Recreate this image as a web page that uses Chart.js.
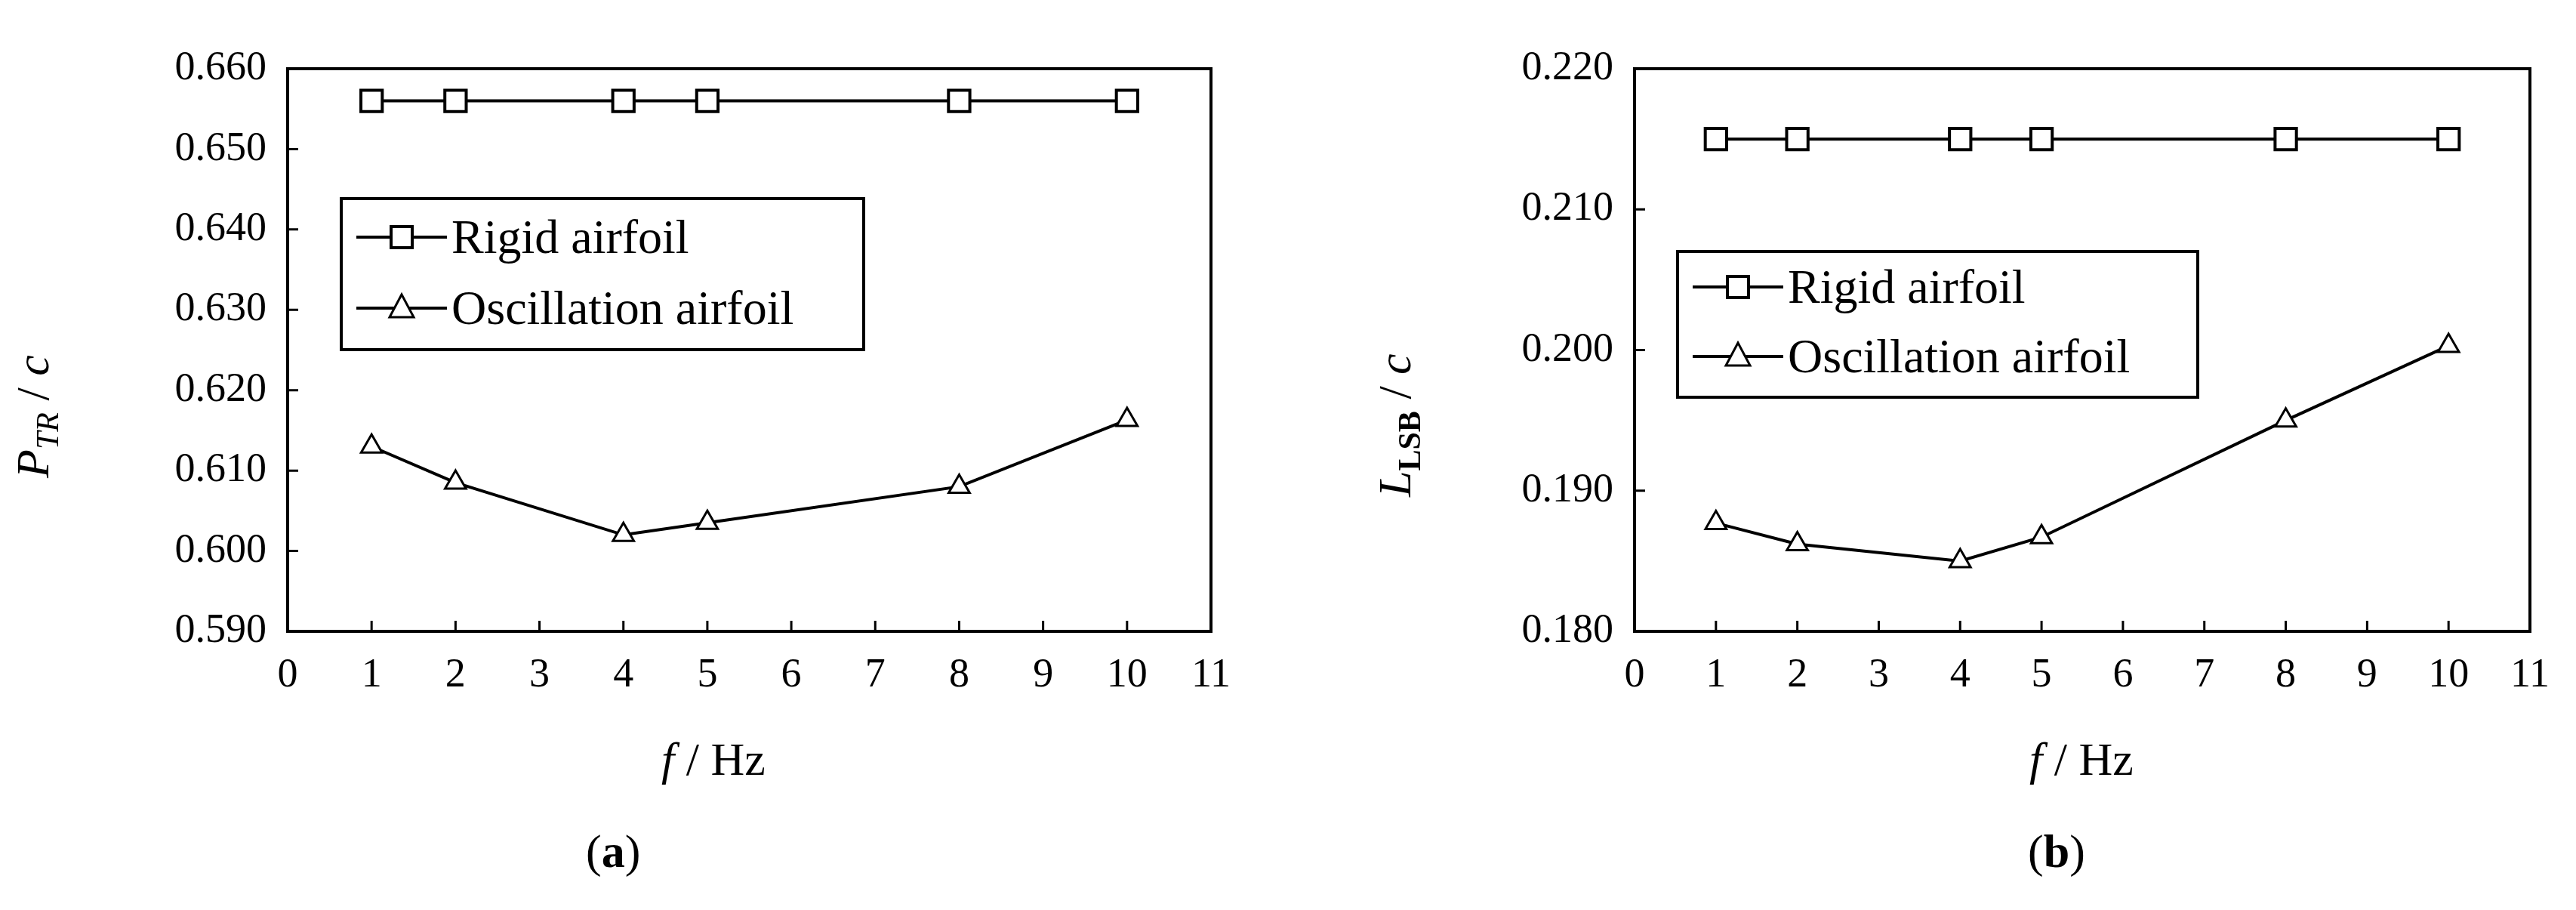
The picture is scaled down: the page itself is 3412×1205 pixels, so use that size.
<!DOCTYPE html>
<html><head><meta charset="utf-8">
<script src="https://cdn.jsdelivr.net/npm/chart.js@4/dist/chart.umd.min.js"></script>
<style>
body{margin:0;width:3412px;height:1205px;background:#fff;position:relative;overflow:hidden;font-family:"Liberation Serif",serif;}
.wrap{position:absolute;top:0;width:1706px;height:1205px;}
.t{position:absolute;font-size:62px;color:#000;white-space:nowrap;}
.leg{position:absolute;border:4px solid #000;background:#fff;font-size:64px;}
.row{position:absolute;left:18px;display:flex;align-items:center;}
.row svg{margin-right:6px;}
</style></head><body>
<div class="wrap" style="left:0"><canvas id="ca"></canvas></div>
<div class="wrap" style="left:1706px"><canvas id="cb"></canvas></div>

<div class="t" style="left:48px;top:528px;width:0;height:0;transform:rotate(-90deg);"><span style="position:absolute;left:-105px;top:-40px;"><i>P</i><sub style="font-size:42px"><i>TR</i></sub> / <i>c</i></span></div>
<div class="t" style="left:876px;top:970px;"><i>f</i> / Hz</div>
<div class="t" style="left:776px;top:1092px;font-size:62px;">(<b>a</b>)</div>

<div class="t" style="left:1852px;top:540px;width:0;height:0;transform:rotate(-90deg);"><span style="position:absolute;left:-118px;top:-40px;"><i>L</i><sub style="font-size:42px"><b>LSB</b></sub> / <i>c</i></span></div>
<div class="t" style="left:2688px;top:970px;"><i>f</i> / Hz</div>
<div class="t" style="left:2686px;top:1092px;font-size:62px;">(<b>b</b>)</div>

<div class="leg" style="left:450px;top:261px;width:688px;height:196px;">
 <div class="row" style="top:12px"><svg width="120" height="60"><line x1="0" y1="30" x2="120" y2="30" stroke="#000" stroke-width="4"/><rect x="46" y="16" width="28" height="28" fill="#fff" stroke="#000" stroke-width="4"/></svg>Rigid airfoil</div>
 <div class="row" style="top:106px"><svg width="120" height="60"><line x1="0" y1="30" x2="120" y2="30" stroke="#000" stroke-width="4"/><polygon points="60,12 76,42 44,42" fill="#fff" stroke="#000" stroke-width="3"/></svg>Oscillation airfoil</div>
</div>
<div class="leg" style="left:2220px;top:331px;width:685px;height:189px;">
 <div class="row" style="top:8px"><svg width="120" height="60"><line x1="0" y1="30" x2="120" y2="30" stroke="#000" stroke-width="4"/><rect x="46" y="16" width="28" height="28" fill="#fff" stroke="#000" stroke-width="4"/></svg>Rigid airfoil</div>
 <div class="row" style="top:100px"><svg width="120" height="60"><line x1="0" y1="30" x2="120" y2="30" stroke="#000" stroke-width="4"/><polygon points="60,12 76,42 44,42" fill="#fff" stroke="#000" stroke-width="3"/></svg>Oscillation airfoil</div>
</div>

<script>
const freq = [1, 2, 4, 5, 8, 10];
const rigidA = [0.656, 0.656, 0.656, 0.656, 0.656, 0.656];
const oscA = [0.613, 0.6085, 0.602, 0.6035, 0.608, 0.6163];
const rigidB = [0.215, 0.215, 0.215, 0.215, 0.215, 0.215];
const oscB = [0.1877, 0.1862, 0.1850, 0.1867, 0.1950, 0.2003];
const yA = {min: 0.590, max: 0.660, step: 0.010};
const yB = {min: 0.180, max: 0.220, step: 0.010};

const frame = {
  id: 'frame',
  afterDraw(c) {
    const ctx = c.ctx, a = c.chartArea, xs = c.scales.x, ys = c.scales.y;
    ctx.save(); ctx.strokeStyle = '#000'; ctx.lineWidth = 4;
    ctx.strokeRect(a.left, a.top, a.right - a.left, a.bottom - a.top);
    ctx.lineWidth = 3; ctx.beginPath();
    xs.ticks.forEach(t => { const p = xs.getPixelForValue(t.value); ctx.moveTo(p, a.bottom); ctx.lineTo(p, a.bottom - 14); });
    ys.ticks.forEach(t => { const p = ys.getPixelForValue(t.value); ctx.moveTo(a.left, p); ctx.lineTo(a.left + 14, p); });
    ctx.stroke(); ctx.restore();
  }
};

function make(id, rigid, osc, yr, left, right) {
  const pts = arr => freq.map((f, i) => ({x: f, y: arr[i]}));
  new Chart(document.getElementById(id), {
    type: 'line',
    data: {datasets: [
      {data: pts(rigid), borderColor: '#000', borderWidth: 4, pointStyle: 'rect', pointRadius: 20, pointBorderWidth: 4, pointBackgroundColor: '#fff', pointBorderColor: '#000'},
      {data: pts(osc), borderColor: '#000', borderWidth: 4, pointStyle: 'triangle', pointRadius: 16, pointBorderWidth: 3, pointBackgroundColor: '#fff', pointBorderColor: '#000'}
    ]},
    options: {
      responsive: false, animation: false, devicePixelRatio: 1,
      layout: {padding: {top: 91, right: right, left: 0, bottom: 0}},
      plugins: {legend: {display: false}, tooltip: {enabled: false}},
      scales: {
        x: {type: 'linear', min: 0, max: 11,
            ticks: {stepSize: 1, color: '#000', font: {family: 'Liberation Serif', size: 54}, padding: 26},
            grid: {display: false, drawTicks: false}, border: {display: false},
            afterFit: s => { s.height = 1205 - 836; }},
        y: {min: yr.min, max: yr.max,
            ticks: {stepSize: yr.step, color: '#000', font: {family: 'Liberation Serif', size: 54}, padding: 28, callback: v => v.toFixed(3)},
            grid: {display: false, drawTicks: false}, border: {display: false},
            afterFit: s => { s.width = left; }}
      }
    },
    plugins: [frame]
  });
}
for (const id of ['ca','cb']) { const c = document.getElementById(id); c.width = 1706; c.height = 1205; }
make('ca', rigidA, oscA, yA, 381, 102);
make('cb', rigidB, oscB, yB, 459, 61);
</script>
</body></html>
